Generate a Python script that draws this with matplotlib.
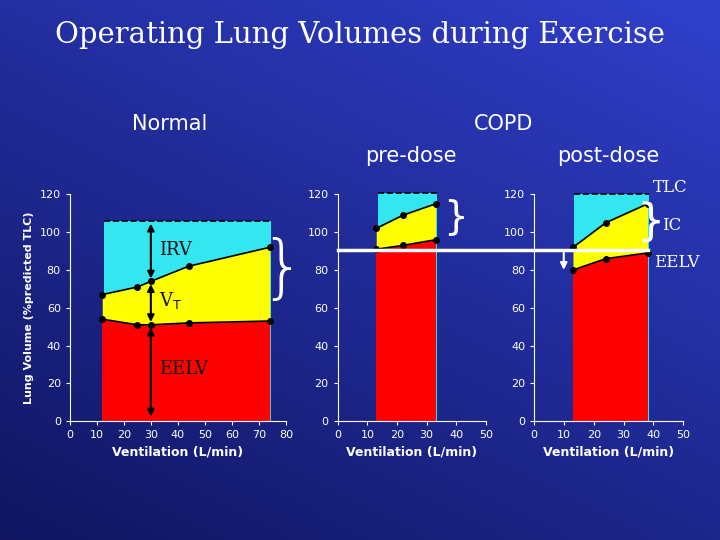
import matplotlib

matplotlib.use("Agg")
import matplotlib.pyplot as plt
import numpy as np

# --- data ------------------------------------------------------------------
NORMAL_X = [12, 25, 30, 44, 74]
NORMAL_EILV = [67, 71, 74, 82, 92]
NORMAL_EELV = [54, 51, 51, 52, 53]
NORMAL_TLC = 106

PRE_X = [13, 22, 33]
PRE_EILV = [102, 109, 115]
PRE_EELV = [91, 93, 96]
PRE_TLC = 121

POST_X = [13, 24, 38]
POST_EILV = [92, 105, 115]
POST_EELV = [80, 86, 89]
POST_TLC = 120

CYAN, YELLOW, RED = "#33e6f0", "#ffff00", "#ff0000"
TICK_COLOR = "white"

fig = plt.figure(figsize=(7.2, 5.4), dpi=100)

# blue gradient background
bg = fig.add_axes([0, 0, 1, 1], zorder=-10)
grad = np.linspace(0, 1, 256)[None, :] * 0.4 + np.linspace(1, 0, 256)[:, None] * 0.6
bg.imshow(grad, cmap=matplotlib.colors.LinearSegmentedColormap.from_list(
    "bg", ["#101560", "#3040cc"]), aspect="auto", extent=[0, 1, 0, 1])
bg.axis("off")


def panel(rect, x, eilv, eelv, tlc, xmax, xticks, ylabel=False):
    ax = fig.add_axes(rect)
    ax.set_facecolor("none")
    x0, x1 = x[0] + 0.5, x[-1] + 0.5
    ax.fill_between([x0, x1], 0, tlc, color=CYAN, lw=0, clip_on=False)
    ax.fill_between(x, eelv, eilv, color=YELLOW, lw=0)
    ax.fill_between(x, 0, eelv, color=RED, lw=0)
    ax.fill_between([x0, x[0]], 0, eelv[0], color=RED, lw=0)
    ax.plot([x0, x1], [tlc, tlc], "k--", lw=1.2, clip_on=False)
    ax.plot(x, eilv, "k-o", ms=4, lw=1.2, clip_on=False)
    ax.plot(x, eelv, "k-o", ms=4, lw=1.2)
    ax.set_xlim(0, xmax)
    ax.set_ylim(0, 120)
    ax.set_xticks(xticks)
    ax.set_yticks(range(0, 121, 20))
    for s in ("top", "right"):
        ax.spines[s].set_visible(False)
    for s in ("left", "bottom"):
        ax.spines[s].set_color("white")
    ax.tick_params(colors=TICK_COLOR, labelsize=8, length=3)
    ax.set_xlabel("Ventilation (L/min)", color="white", fontsize=9, fontweight="bold")
    if ylabel:
        ax.set_ylabel("Lung Volume (%predicted TLC)", color="white", fontsize=8,
                      fontweight="bold")
    return ax


ax1 = panel([0.097, 0.22, 0.30, 0.42], NORMAL_X, NORMAL_EILV, NORMAL_EELV,
            NORMAL_TLC, 80, range(0, 81, 10), ylabel=True)
ax2 = panel([0.469, 0.22, 0.206, 0.42], PRE_X, PRE_EILV, PRE_EELV, PRE_TLC,
            50, range(0, 51, 10))
ax3 = panel([0.742, 0.22, 0.207, 0.42], POST_X, POST_EILV, POST_EELV, POST_TLC,
            50, range(0, 51, 10))

# vertical arrows in the normal panel
arrow = dict(arrowstyle="<|-|>", color="black", lw=1.5, mutation_scale=10)
for lo, hi in [(1, 51), (51, 74), (74, NORMAL_TLC)]:
    ax1.annotate("", xy=(30, hi), xytext=(30, lo), arrowprops=arrow)
serif = dict(family="DejaVu Serif", fontsize=13, color="#101010")
ax1.text(33, 88, "IRV", **serif)
ax1.text(33, 61, "V$_\\mathrm{T}$", **serif)
ax1.text(33, 25, "EELV", **serif)

# braces
fig.text(0.392, 0.498, "}", color="white", fontsize=50, fontweight="light",
         va="center", ha="center")
fig.text(0.632, 0.598, "}", color="white", fontsize=28, va="center", ha="center")
fig.text(0.903, 0.589, "}", color="white", fontsize=32, va="center", ha="center")
wt = dict(family="DejaVu Serif", fontsize=12, color="white")
fig.text(0.907, 0.645, "TLC", **wt)
fig.text(0.920, 0.575, "IC", **wt)
fig.text(0.908, 0.505, "EELV", **wt)

# white reference line at pre-dose EELV
fig.add_artist(plt.Line2D([0.47, 0.90], [0.537, 0.537], color="white", lw=2.5))
fig.add_artist(matplotlib.patches.FancyArrowPatch(
    (0.783, 0.537), (0.783, 0.495), arrowstyle="-|>", color="white", lw=1.5,
    mutation_scale=10))

fig.text(0.5, 0.92, "Operating Lung Volumes during Exercise", color="white",
         fontsize=21, family="DejaVu Serif", ha="center")
tt = dict(color="white", fontsize=15, ha="center")
fig.text(0.235, 0.76, "Normal", **tt)
fig.text(0.70, 0.76, "COPD", **tt)
fig.text(0.57, 0.70, "pre-dose", **tt)
fig.text(0.845, 0.70, "post-dose", **tt)

fig.savefig("out.png", dpi=100)
